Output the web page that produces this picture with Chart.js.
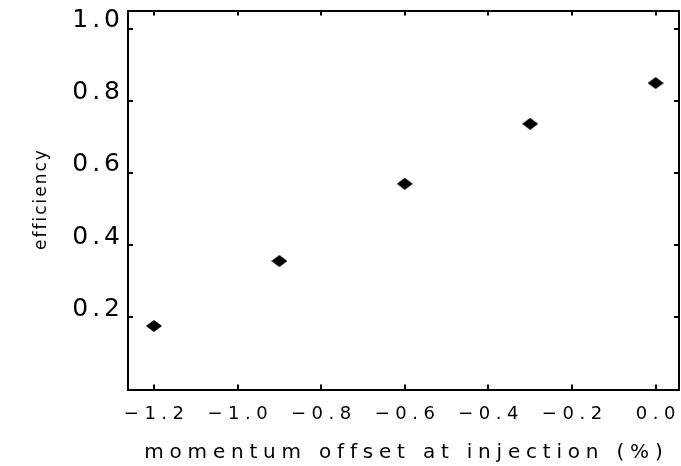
<!DOCTYPE html>
<html>
<head>
<meta charset="utf-8">
<script src="https://cdn.jsdelivr.net/npm/chart.js@4"></script>
<style>
  html, body { margin: 0; padding: 0; background: #fff; overflow: hidden; }
  /* chart.js keeps a few px free on the right; let that strip fall outside the window */
  #wrap { width: 684px; height: 466px; }
</style>
</head>
<body>
<div id="wrap"><canvas id="effChart"></canvas></div>
<script>
const offsets = [-1.2, -0.9, -0.6, -0.3, 0.0];
const efficiency = [0.176, 0.356, 0.570, 0.736, 0.849];
const xTicks = [-1.2, -1.0, -0.8, -0.6, -0.4, -0.2, 0.0];
const yTicks = [0.2, 0.4, 0.6, 0.8, 1.0];

const FONT = "DejaVu Sans";
// extra letter spacing (px) per font size, the original lettering is very wide
const spacing = { 25: 4, 20: 5.8, 18: 5.5, 17: 2 };

const letterSpacing = {
  id: "letterSpacing",
  beforeInit(chart) {
    const ctx = chart.ctx;
    const fill = ctx.fillText, measure = ctx.measureText;
    const apply = () => {
      const m = /(\d+(?:\.\d+)?)px/.exec(ctx.font);
      const ls = (m && spacing[Math.round(m[1])]) || 0;
      ctx.letterSpacing = ls + "px";
      return ls;
    };
    ctx.fillText = function (text, x, y, maxWidth) {
      const ls = apply();
      // spacing is also added after the last glyph, undo that for aligned text
      if (ctx.textAlign === "center") x += ls / 2;
      else if (ctx.textAlign === "right") x += ls;
      return maxWidth === undefined ? fill.call(this, text, x, y) : fill.call(this, text, x, y, maxWidth);
    };
    ctx.measureText = function (...args) { apply(); return measure.apply(this, args); };
  }
};

function diamond(w, h) {
  const c = document.createElement("canvas");
  c.width = w; c.height = h;
  const g = c.getContext("2d");
  g.fillStyle = "#000";
  g.beginPath();
  g.moveTo(w / 2, 0); g.lineTo(w, h / 2); g.lineTo(w / 2, h); g.lineTo(0, h / 2);
  g.closePath();
  g.fill();
  return c;
}

// pin a scale's size and drop the label overhang padding chart.js adds
const pin = (w, h) => s => {
  if (w !== null) s.width = w;
  if (h !== null) s.height = h;
  s.paddingLeft = s.paddingRight = s.paddingTop = s.paddingBottom = 0;
};

const fmt = v => Number(v).toFixed(1).replace("-", "\u2212");
const grid = { drawOnChartArea: false, color: "#000", lineWidth: 2, tickLength: -5 };
const border = { display: true, color: "#000", width: 2 };
const xRange = { min: -1.262, max: 0.056 };
const yRange = { min: 0, max: 1.05 };

new Chart(document.getElementById("effChart"), {
  type: "scatter",
  data: {
    datasets: [{
      data: offsets.map((x, i) => ({ x, y: efficiency[i] })),
      pointStyle: diamond(16, 12),
      backgroundColor: "#000",
      borderColor: "#000"
    }]
  },
  options: {
    animation: false,
    responsive: true,
    maintainAspectRatio: false,
    layout: { padding: 0 },
    plugins: { legend: { display: false }, tooltip: { enabled: false } },
    scales: {
      x: {
        type: "linear", position: "bottom", ...xRange,
        afterBuildTicks: s => { s.ticks = xTicks.map(v => ({ value: v })); },
        afterFit: pin(null, 76.5),
        border, grid,
        ticks: {
          color: "#000", font: { family: FONT, size: 18 }, padding: 19,
          maxRotation: 0, autoSkip: false, callback: v => fmt(v)
        },
        title: {
          display: true, text: "momentum offset at injection (%)", color: "#000",
          font: { family: FONT, size: 20 }, padding: { top: 0, bottom: 1 }
        }
      },
      x2: {
        type: "linear", axis: "x", position: "top", ...xRange,
        afterBuildTicks: s => { s.ticks = xTicks.map(v => ({ value: v })); },
        afterFit: pin(null, 10.5),
        border, grid,
        ticks: { display: false }
      },
      y: {
        type: "linear", position: "left", ...yRange,
        afterBuildTicks: s => { s.ticks = yTicks.map(v => ({ value: v })); },
        afterFit: pin(128, null),
        border, grid,
        ticks: {
          color: "#000", font: { family: FONT, size: 25 }, padding: 13,
          labelOffset: -8, autoSkip: false, callback: v => fmt(v)
        },
        title: {
          display: true, text: "efficiency", color: "#000",
          font: { family: FONT, size: 17 }, padding: { top: 31, bottom: 0 }
        }
      },
      y2: {
        type: "linear", axis: "y", position: "right", ...yRange,
        afterBuildTicks: s => { s.ticks = yTicks.map(v => ({ value: v })); },
        afterFit: pin(2, null),
        border, grid,
        ticks: { display: false }
      }
    }
  },
  plugins: [letterSpacing]
});
</script>
</body>
</html>
